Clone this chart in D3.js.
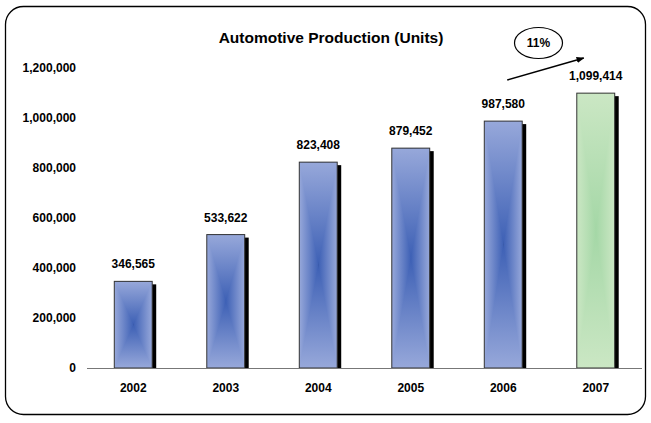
<!DOCTYPE html>
<html>
<head>
<meta charset="utf-8">
<script src="https://cdn.jsdelivr.net/npm/d3@7"></script>
<style>
  body { margin: 0; background: #fff; }
  svg text { font-family: "Liberation Sans", Arial, sans-serif; font-weight: bold; fill: #000; }
</style>
</head>
<body>
<div id="chart"></div>
<script>
var years = ["2002", "2003", "2004", "2005", "2006", "2007"];
var units = [346565, 533622, 823408, 879452, 987580, 1099414];
var yTicks = [0, 200000, 400000, 600000, 800000, 1000000, 1200000];
var growthLabel = "11%";

(function () {
  'use strict'

  var W = 651, H = 423;
  var margin = {top: 68, right: 9, bottom: 55, left: 87},
      width = W - margin.left - margin.right,
      height = H - margin.top - margin.bottom;

  var svg = d3.select("#chart").append("svg")
      .attr("width", W)
      .attr("height", H);

  var defs = svg.append("defs");

  // gradients for the pieces of each bar (rectangular fill, dark in the middle)
  function addGrad(id, x1, y1, x2, y2, edge, mid) {
    var g = defs.append("linearGradient").attr("id", id)
      .attr("x1", x1).attr("y1", y1).attr("x2", x2).attr("y2", y2);
    g.append("stop").attr("offset", "0%").attr("stop-color", edge);
    g.append("stop").attr("offset", "100%").attr("stop-color", mid);
  }
  var palettes = {
    blue: {edge: "#97a8da", mid: "#3d60b5"},
    green: {edge: "#cbe7c4", mid: "#a4d7a6"}
  };
  Object.keys(palettes).forEach(function(k){
    var p = palettes[k];
    addGrad(k + "Top", 0, 0, 0, 1, p.edge, p.mid);
    addGrad(k + "Bot", 0, 1, 0, 0, p.edge, p.mid);
    addGrad(k + "Left", 0, 0, 1, 0, p.edge, p.mid);
    addGrad(k + "Right", 1, 0, 0, 0, p.edge, p.mid);
  });

  defs.append("marker")
    .attr("id", "arrowHead")
    .attr("viewBox", "0 0 10 10")
    .attr("refX", 9).attr("refY", 5)
    .attr("markerWidth", 5).attr("markerHeight", 5)
    .attr("orient", "auto")
    .append("path").attr("d", "M0,1 L10,5 L0,9 Z").attr("fill", "#000");

  // outer rounded frame
  svg.append("rect")
    .attr("x", 5.5).attr("y", 6.5)
    .attr("width", 640).attr("height", 408)
    .attr("rx", 18).attr("ry", 18)
    .attr("fill", "#fff").attr("stroke", "#000").attr("stroke-width", 1.3);

  svg.append("text")
    .attr("x", 331).attr("y", 43)
    .attr("text-anchor", "middle")
    .style("font-size", "15.5px")
    .text("Automotive Production (Units)");

  var g = svg.append("g").attr("transform", "translate(" + margin.left + "," + margin.top + ")");

  var x = d3.scaleBand().domain(years).range([0, width]).padding(0);
  var y = d3.scaleLinear().domain([0, 1200000]).range([height, 0]);

  var barW = x.bandwidth() * 0.41;
  var fmt = d3.format(",");

  var data = years.map(function(yr, i){ return {year: yr, value: units[i], last: i === years.length - 1}; });

  // y labels
  g.append("g")
    .selectAll("text")
    .data(yTicks)
    .enter().append("text")
    .attr("x", -11)
    .attr("y", function(d){ return y(d); })
    .attr("dy", "0.35em")
    .attr("text-anchor", "end")
    .style("font-size", "12px")
    .text(function(d){ return fmt(d); });

  var bars = g.selectAll(".bar")
    .data(data)
    .enter().append("g")
    .attr("class", "bar")
    .attr("transform", function(d){
      return "translate(" + (x(d.year) + (x.bandwidth() - barW) / 2) + ",0)";
    });

  // shadow
  bars.append("rect")
    .attr("x", 4)
    .attr("y", function(d){ return y(d.value) + 3; })
    .attr("width", barW)
    .attr("height", function(d){ return height - y(d.value) - 3; })
    .attr("fill", "#000");

  bars.each(function(d){
    var b = d3.select(this);
    var k = d.last ? "green" : "blue";
    var t = y(d.value), bt = height, w = barW;
    var cx = w / 2, cy = (t + bt) / 2;
    var line = d3.line();
    // left and right halves, then top and bottom triangles meeting in the centre
    b.append("rect").attr("x", 0).attr("y", t).attr("width", cx + 0.5).attr("height", bt - t)
      .attr("fill", "url(#" + k + "Left)");
    b.append("rect").attr("x", cx).attr("y", t).attr("width", cx).attr("height", bt - t)
      .attr("fill", "url(#" + k + "Right)");
    b.append("path").attr("d", line([[0, t], [w, t], [cx, cy]]) + "Z").attr("fill", "url(#" + k + "Top)");
    b.append("path").attr("d", line([[0, bt], [w, bt], [cx, cy]]) + "Z").attr("fill", "url(#" + k + "Bot)");
    b.append("rect")
      .attr("x", 0).attr("y", t)
      .attr("width", w).attr("height", bt - t)
      .attr("fill", "none").attr("stroke", "#333").attr("stroke-width", 1);
  });

  // value labels
  g.selectAll(".val")
    .data(data)
    .enter().append("text")
    .attr("class", "val")
    .attr("x", function(d){ return x(d.year) + x.bandwidth() / 2; })
    .attr("y", function(d){ return y(d.value) - 13; })
    .attr("text-anchor", "middle")
    .style("font-size", "12px")
    .text(function(d){ return fmt(d.value); });

  // baseline
  g.append("line")
    .attr("x1", 0).attr("x2", width)
    .attr("y1", height + 0.5).attr("y2", height + 0.5)
    .attr("stroke", "#777").attr("stroke-width", 1.2);

  // x labels
  g.selectAll(".xl")
    .data(years)
    .enter().append("text")
    .attr("class", "xl")
    .attr("x", function(d){ return x(d) + x.bandwidth() / 2; })
    .attr("y", height + 24)
    .attr("text-anchor", "middle")
    .style("font-size", "12px")
    .text(function(d){ return d; });

  // growth annotation between the last two bars
  var c6 = x(years[4]) + x.bandwidth() / 2;
  var c7 = x(years[5]) + x.bandwidth() / 2;
  var top = y(yTicks[yTicks.length - 1]);
  g.append("line")
    .attr("x1", c6 + 4).attr("y1", top + 12)
    .attr("x2", c7 - 12).attr("y2", top - 10)
    .attr("stroke", "#000").attr("stroke-width", 1.6)
    .attr("marker-end", "url(#arrowHead)");

  var ex = (c6 + c7) / 2 - 11, ey = top - 25;
  g.append("ellipse")
    .attr("cx", ex).attr("cy", ey)
    .attr("rx", 24).attr("ry", 15.5)
    .attr("fill", "#fff").attr("stroke", "#000").attr("stroke-width", 1.2);
  g.append("text")
    .attr("x", ex).attr("y", ey)
    .attr("dy", "0.35em")
    .attr("text-anchor", "middle")
    .style("font-size", "12px")
    .text(growthLabel);
})()
</script>
</body>
</html>
